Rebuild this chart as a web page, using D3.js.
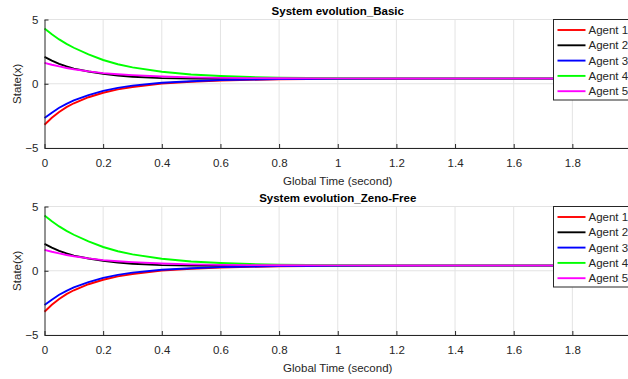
<!DOCTYPE html>
<html>
<head>
<meta charset="utf-8">
<script src="https://cdn.jsdelivr.net/npm/d3@7"></script>
<style>
  body { margin: 0; background: #fff; }
  svg { display: block; font-family: "Liberation Sans", Arial, sans-serif; }
</style>
</head>
<body>
<svg id="chart" width="628" height="379"></svg>
<script>
// time samples (second)
const time = [0, 0.025, 0.05, 0.075, 0.1, 0.15, 0.2, 0.25, 0.3, 0.4, 0.5, 0.6, 0.7, 0.8, 1.0, 1.2, 1.4, 1.6, 1.8, 2.0];

// System evolution_Basic
const basicAgent1 = [-3.19, -2.65, -2.20, -1.82, -1.52, -1.05, -0.70, -0.44, -0.25, 0.02, 0.16, 0.25, 0.31, 0.35, 0.38, 0.39, 0.40, 0.40, 0.40, 0.40];
const basicAgent2 = [2.09, 1.80, 1.55, 1.35, 1.18, 0.95, 0.78, 0.64, 0.54, 0.44, 0.40, 0.39, 0.39, 0.39, 0.39, 0.40, 0.40, 0.40, 0.40, 0.40];
const basicAgent3 = [-2.67, -2.25, -1.87, -1.56, -1.30, -0.88, -0.55, -0.32, -0.15, 0.08, 0.20, 0.28, 0.33, 0.36, 0.39, 0.40, 0.40, 0.40, 0.40, 0.40];
const basicAgent4 = [4.30, 3.85, 3.45, 3.10, 2.80, 2.28, 1.85, 1.52, 1.27, 0.93, 0.72, 0.60, 0.52, 0.47, 0.43, 0.42, 0.41, 0.41, 0.41, 0.41];
const basicAgent5 = [1.63, 1.48, 1.35, 1.23, 1.13, 0.96, 0.83, 0.74, 0.67, 0.57, 0.50, 0.46, 0.44, 0.43, 0.42, 0.41, 0.41, 0.41, 0.41, 0.41];

// System evolution_Zeno-Free
const zenoAgent1 = [-3.19, -2.65, -2.20, -1.82, -1.52, -1.05, -0.70, -0.44, -0.25, 0.02, 0.16, 0.25, 0.31, 0.35, 0.38, 0.39, 0.40, 0.40, 0.40, 0.40];
const zenoAgent2 = [2.09, 1.80, 1.55, 1.35, 1.18, 0.95, 0.78, 0.64, 0.54, 0.44, 0.40, 0.39, 0.39, 0.39, 0.39, 0.40, 0.40, 0.40, 0.40, 0.40];
const zenoAgent3 = [-2.67, -2.25, -1.87, -1.56, -1.30, -0.88, -0.55, -0.32, -0.15, 0.08, 0.20, 0.28, 0.33, 0.36, 0.39, 0.40, 0.40, 0.40, 0.40, 0.40];
const zenoAgent4 = [4.30, 3.85, 3.45, 3.10, 2.80, 2.28, 1.85, 1.52, 1.27, 0.93, 0.72, 0.60, 0.52, 0.47, 0.43, 0.42, 0.41, 0.41, 0.41, 0.41];
const zenoAgent5 = [1.63, 1.48, 1.35, 1.23, 1.13, 0.96, 0.83, 0.74, 0.67, 0.57, 0.50, 0.46, 0.44, 0.43, 0.42, 0.41, 0.41, 0.41, 0.41, 0.41];

const agentNames = ["Agent 1", "Agent 2", "Agent 3", "Agent 4", "Agent 5"];
const agentColors = ["#ff0000", "#000000", "#0000ff", "#00ff00", "#ff00ff"];
const xTicks = [0, 0.2, 0.4, 0.6, 0.8, 1, 1.2, 1.4, 1.6, 1.8, 2];
const yTicks = [-5, 0, 5];

const svg = d3.select("#chart");
const axisColor = "#262626";

function drawPanel(top, title, series) {
  const left = 44.5, right = 631, height = 128.5;
  const x = d3.scaleLinear().domain([0, 2]).range([left, right]);
  const y = d3.scaleLinear().domain([-5, 5]).range([top + height, top]);
  const g = svg.append("g");

  // grid
  g.selectAll(".gx").data(xTicks.slice(1)).enter().append("line")
    .attr("x1", d => x(d)).attr("x2", d => x(d))
    .attr("y1", top).attr("y2", top + height)
    .attr("stroke", "#e3e3e3").attr("stroke-width", 1);
  g.selectAll(".gy").data(yTicks).enter().append("line")
    .attr("x1", left).attr("x2", right)
    .attr("y1", d => y(d)).attr("y2", d => y(d))
    .attr("stroke", "#e3e3e3").attr("stroke-width", 1);

  // curves
  const line = d3.line().x((d, i) => x(time[i])).y(d => y(d));
  series.forEach((s, k) => {
    g.append("path").datum(s)
      .attr("d", line)
      .attr("fill", "none")
      .attr("stroke", agentColors[k])
      .attr("stroke-width", 1.9);
  });

  // axes
  const xAxis = d3.axisBottom(x).tickValues(xTicks).tickSize(-4).tickSizeOuter(0)
    .tickFormat(d3.format("~g"));
  const ax = g.append("g").attr("transform", `translate(0,${top + height})`).call(xAxis);
  const yAxis = d3.axisLeft(y).tickValues(yTicks).tickSize(-4).tickSizeOuter(0);
  const ay = g.append("g").attr("transform", `translate(${left},0)`).call(yAxis);
  [ax, ay].forEach(a => {
    a.select(".domain").attr("stroke", axisColor);
    a.selectAll(".tick line").attr("stroke", axisColor);
    a.selectAll(".tick text").attr("fill", axisColor)
      .attr("font-size", 11.5).attr("font-family", "Liberation Sans, Arial, sans-serif");
  });
  ax.selectAll(".tick text").attr("dy", "1.35em");
  ay.selectAll(".tick text").attr("x", -6);

  // labels
  g.append("text").attr("x", (left + right) / 2).attr("y", top + height + 37)
    .attr("text-anchor", "middle").attr("font-size", 11.5).attr("fill", axisColor)
    .text("Global Time (second)");
  g.append("text")
    .attr("transform", `translate(${17},${top + height / 2}) rotate(-90)`)
    .attr("text-anchor", "middle").attr("dy", "0.35em")
    .attr("font-size", 11.5).attr("fill", axisColor)
    .text("State(x)");
  g.append("text").attr("x", (left + right) / 2).attr("y", top - 5)
    .attr("text-anchor", "middle").attr("font-size", 11.5).attr("font-weight", "bold")
    .attr("fill", "#000").text(title);

  // legend
  const lg = g.append("g").attr("transform", `translate(553.5,${top})`);
  lg.append("rect").attr("x", 0).attr("y", 0).attr("width", 90).attr("height", 80.5)
    .attr("fill", "#fff").attr("stroke", axisColor).attr("stroke-width", 1);
  agentNames.forEach((name, k) => {
    const yy = 10.5 + k * 15.3;
    lg.append("line").attr("x1", 4).attr("x2", 32).attr("y1", yy).attr("y2", yy)
      .attr("stroke", agentColors[k]).attr("stroke-width", 1.9);
    lg.append("text").attr("x", 35).attr("y", yy).attr("dy", "0.35em")
      .attr("font-size", 11.5).attr("fill", axisColor).text(name);
  });
}

drawPanel(19.5, "System evolution_Basic", [basicAgent1, basicAgent2, basicAgent3, basicAgent4, basicAgent5]);
drawPanel(206.5, "System evolution_Zeno-Free", [zenoAgent1, zenoAgent2, zenoAgent3, zenoAgent4, zenoAgent5]);
</script>
</body>
</html>
